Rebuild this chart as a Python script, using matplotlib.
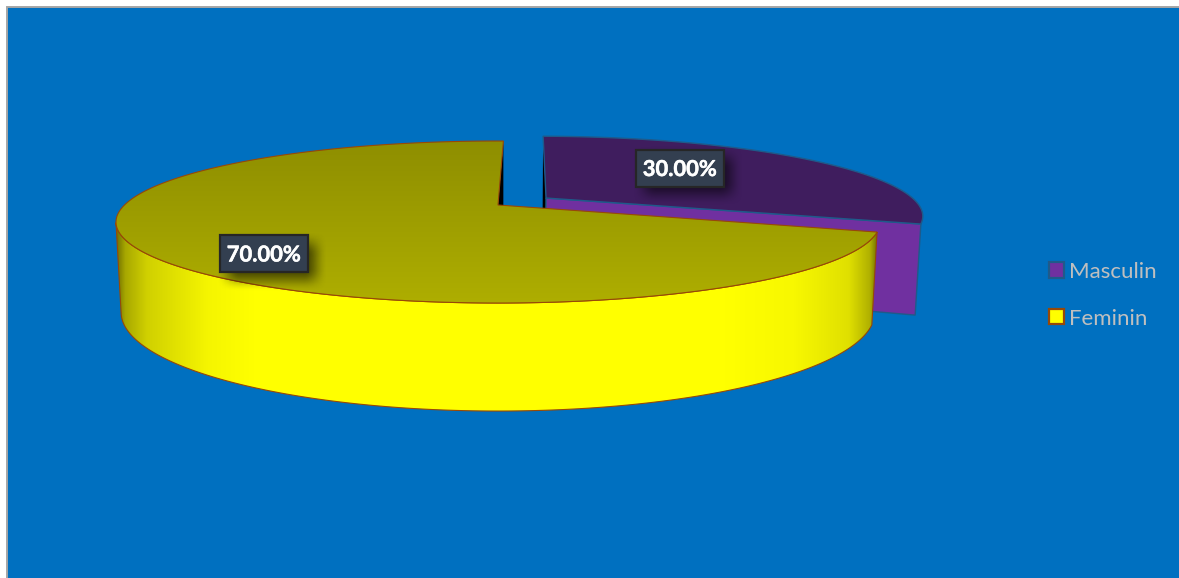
"""
Torta 3D Masculin / Feminin, disegnata a mano con una proiezione prospettica.
"""

import numpy as np
import matplotlib
matplotlib.use("Agg")
import matplotlib.pyplot as plt
import matplotlib.patheffects as pe
from matplotlib.colors import LinearSegmentedColormap
from matplotlib.patches import Patch, Polygon, Rectangle

# Dati
categories = ["Masculin", "Feminin"]
shares = [30.0, 70.0]
share_labels = ["30.00%", "70.00%"]

# Stile
BG = "#0070C0"
PURPLE_TOP = "#3F1D5E"
PURPLE_SIDE = "#7030A0"
PURPLE_EDGE = "#1F5A8A"
YELLOW_EDGE = "#984807"
LABEL_FILL = "#333F50"
LABEL_EDGE = "#262626"
LEGEND_TEXT = "#BFBFBF"

# Parametri della proiezione (in pixel)
CX, CY = 498.0, 222.0
RX = 373.5
A, B, C = -81.0, -17.0, 0.21
D, E = 87.8, 0.013
START = 90.0 - 1.0
EXPLODE = 0.16


def project(u, v, h=0.0):
    w = 1 + C * v + E * h
    return CX + RX * u / w, CY + (A * v + B + D * h) / w


def pts(u, v, h=0.0):
    x, y = project(np.asarray(u, float), np.asarray(v, float), h)
    return np.column_stack([np.atleast_1d(x), np.atleast_1d(y)])


def gradient(ax, poly, stops, vertical=False, zorder=1):
    # Riempie il poligono con un gradiente, tagliato sulla sua forma
    ax.add_patch(poly)
    cmap = LinearSegmentedColormap.from_list("g", stops, N=1024)
    xy = poly.get_xy()
    x0, x1, y0, y1 = xy[:, 0].min(), xy[:, 0].max(), xy[:, 1].min(), xy[:, 1].max()
    ramp = np.linspace(0, 1, 1024)
    ramp = ramp[:, None] if vertical else ramp[None, :]
    im = ax.imshow(ramp, cmap=cmap, vmin=0, vmax=1, extent=(x0, x1, y1, y0),
                   aspect="auto", zorder=zorder, interpolation="bilinear")
    im.set_clip_path(poly)


def soft_edge(values, lo, hi, blur):
    # Profilo morbido di un rettangolo sfocato lungo un asse
    return np.clip((values - lo) / blur + 0.5, 0, 1) * np.clip((hi - values) / blur + 0.5, 0, 1)


def add_label(ax, text, cx, cy, w=88, h=37):
    # Ombra sfumata del riquadro
    left, right = cx - w / 2 + 8, cx + w / 2 + 8
    up, down = cy - h / 2 + 8, cy + h / 2 + 8
    xs = np.arange(left - 22, right + 22)
    ys = np.arange(up - 22, down + 22)
    fx = soft_edge(xs, left, right, 24)
    fy = soft_edge(ys, up, down, 24)
    alpha = np.outer(fy * fy * (3 - 2 * fy), fx * fx * (3 - 2 * fx)) * 0.6
    rgba = np.zeros(alpha.shape + (4,))
    rgba[..., 3] = alpha
    ax.imshow(rgba, extent=(xs[0], xs[-1], ys[-1], ys[0]), aspect="auto", zorder=8,
              interpolation="bilinear")

    ax.add_patch(Rectangle((cx - w / 2, cy - h / 2), w, h, fc=LABEL_FILL,
                           ec=LABEL_EDGE, lw=1.6, zorder=9))
    ax.text(cx, cy + 1.5, text, color="white", fontsize=15.8, fontweight="bold",
            family="Lato", ha="center", va="center", zorder=10,
            path_effects=[pe.withStroke(linewidth=0.35, foreground="white")])


fig = plt.figure(figsize=(11.79, 5.78), dpi=100, facecolor="white")
ax = fig.add_axes([0, 0, 1, 1])
ax.set_axis_off()

# Sfondo del grafico con il bordo grigio
ax.add_patch(Rectangle((6.5, 6.5), 1200, 600, fc=BG, ec="#A6A6A6", lw=1.4, zorder=0))

# Angoli delle fette a partire dai valori, in senso orario
total = sum(shares)
split = START - 360.0 * shares[0] / total
male_t = np.radians(np.linspace(START, split, 200))
female_t = np.radians(np.linspace(split, START - 360.0, 500))

# Fetta Masculin, spostata lungo la sua bisettrice
mid = np.radians((START + split) / 2)
du, dv = EXPLODE * np.cos(mid), EXPLODE * np.sin(mid)
mu, mv = np.cos(male_t) + du, np.sin(male_t) + dv

rim_top = pts(mu, mv)
apex_top = pts(du, dv)
apex_bottom = pts(du, dv, 1.0)
rim_bottom = pts(mu, mv, 1.0)

ax.add_patch(Polygon(np.vstack([rim_top[:1], apex_top, apex_bottom, rim_bottom[:1]]),
                     fc="black", ec="none", zorder=1))
ax.add_patch(Polygon(np.vstack([rim_top[-1:], apex_top, apex_bottom, rim_bottom[-1:]]),
                     fc=PURPLE_SIDE, ec=PURPLE_EDGE, lw=1.0, zorder=2))
ax.add_patch(Polygon(np.vstack([apex_top, rim_top]), fc=PURPLE_TOP, ec=PURPLE_EDGE,
                     lw=1.0, zorder=3))

# Fetta Feminin: prima la parete esterna, poi il taglio e il piano superiore
fu, fv = np.cos(female_t), np.sin(female_t)
visible = (fv <= -C) & (female_t > np.radians(split - 180.0))
outer_top = pts(fu[visible], fv[visible])
outer_bottom = pts(fu[visible], fv[visible], 1.0)
side = Polygon(np.vstack([outer_top, outer_bottom[::-1]]), fc="none",
               ec=YELLOW_EDGE, lw=0.8, zorder=5)
gradient(ax, side, [(0.0, "#6E6E00"), (0.012, "#A8A800"), (0.04, "#D0D000"),
                    (0.12, "#F5F500"), (0.18, "#FFFF00"), (0.8, "#FFFF00"),
                    (0.89, "#F8F800"), (0.962, "#E0E000"), (0.99, "#B0B000"),
                    (1.0, "#6E6E00")], zorder=4)

cut_top = pts(fu[-1], fv[-1])
cut_bottom = pts(fu[-1], fv[-1], 1.0)
ax.add_patch(Polygon(np.vstack([cut_top, pts(0, 0), pts(0, 0, 1.0), cut_bottom]),
                     fc="black", ec="none", zorder=4.5))

top = Polygon(np.vstack([pts(0, 0), pts(fu, fv)]), fc="none", ec=YELLOW_EDGE,
              lw=0.8, zorder=7)
gradient(ax, top, [(0.0, "#8E8E00"), (1.0, "#AEAE00")], vertical=True, zorder=6)

# Etichette dei valori
add_label(ax, share_labels[0], 680, 168)
add_label(ax, share_labels[1], 264, 253.5)

# Legenda
handles = [Patch(fc=PURPLE_SIDE, ec=PURPLE_EDGE, lw=1.6),
           Patch(fc="#FFFF00", ec=YELLOW_EDGE, lw=1.6)]
leg = ax.legend(handles, categories, loc="upper left", bbox_to_anchor=(1040, 253),
                bbox_transform=ax.transData, frameon=False,
                labelcolor=LEGEND_TEXT, handlelength=0.68, handleheight=0.68,
                handletextpad=0.22, labelspacing=1.2, borderpad=0.4, borderaxespad=0,
                prop={"family": "Lato", "size": 16.0})

ax.set_xlim(0, 1179)
ax.set_ylim(578, 0)

fig.savefig("out.png", dpi=100, facecolor="white")
